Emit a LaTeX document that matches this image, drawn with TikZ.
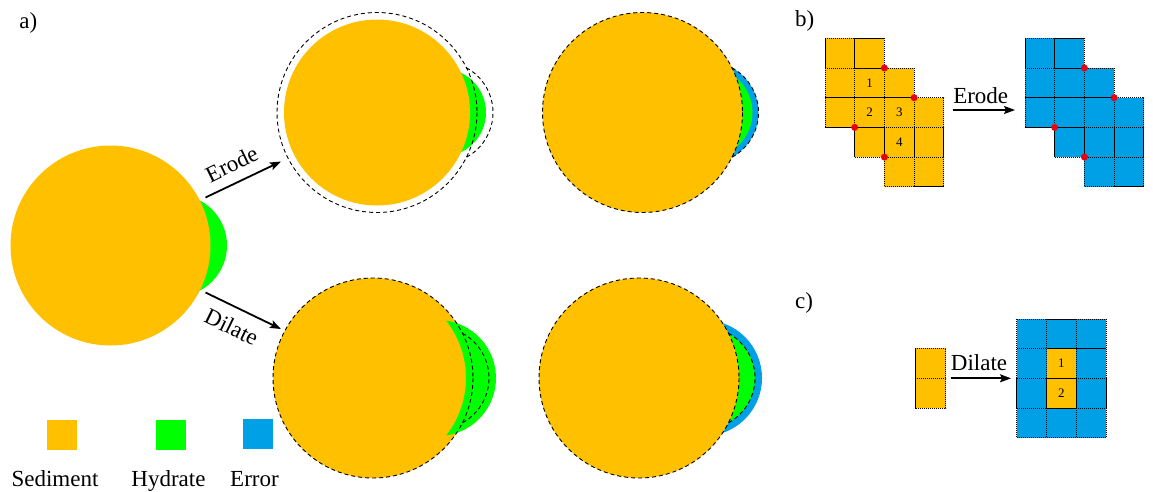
\documentclass[tikz,border=0pt]{standalone}
\usepackage{fontspec}
\setmainfont{Liberation Serif}
\usetikzlibrary{arrows.meta}
\definecolor{sed}{HTML}{FFC000}
\definecolor{hyd}{HTML}{00FF00}
\definecolor{err}{HTML}{00A0E6}
\definecolor{dotred}{HTML}{E60012}
\begin{document}
\begin{tikzpicture}[x=1pt,y=-1pt,
  lbl/.style={font=\fontsize{23}{27}\selectfont, inner sep=0pt},
  num/.style={font=\fontsize{13}{15}\selectfont, inner sep=0pt},
  outl/.style={draw=black, line width=0.9pt, dash pattern=on 4pt off 3pt},
  arr/.style={line width=1.8pt, -{Stealth[length=11pt,width=8pt,inset=2pt]}},
  cellY/.style={fill=sed, draw=black, line width=0.8pt, dash pattern=on 1.2pt off 0.8pt},
  cellB/.style={cellY, fill=err},
  rdot/.style={fill=dotred}
]
\useasboundingbox (0,0) rectangle (1153,491);

% ---------- a) ----------
\node[lbl, anchor=base west] (la) at (19.3,28.3) {a)};
% original
\fill[hyd] (176,245.5) circle (51);
\fill[sed] (110.5,245.5) circle (100);
% erode (top middle)
\fill[hyd] (442,112.5) circle (44);
\fill[sed] (377,112.5) circle (93);
\draw[outl] (377,112.5) circle (100);
\draw[outl] (442,112.5) ++(-61.4:51) arc[start angle=-61.4,end angle=61.4,radius=51];
% top right
\fill[err] (707.5,112.5) circle (51);
\fill[hyd] (707.5,112.5) circle (45);
\fill[sed] (642.5,112.5) circle (100);
\draw[outl] (642.5,112.5) circle (100);
\draw[outl] (707.5,112.5) ++(-61.4:51) arc[start angle=-61.4,end angle=61.4,radius=51];
% dilate (bottom middle)
\fill[sed] (373,378) circle (100);
\fill[hyd] (438,378) ++(-81.9:58) arc[start angle=-81.9,end angle=81.9,radius=58]
  arc[start angle=38.1,end angle=-38.1,radius=93] -- cycle;
\draw[outl] (373,378) circle (100);
\draw[outl] (438,378) ++(-61.4:51) arc[start angle=-61.4,end angle=61.4,radius=51];
% bottom right
\fill[err] (704,378) circle (58);
\fill[hyd] (704,378) circle (51);
\fill[sed] (639,378) circle (100);
\draw[outl] (639,378) circle (100);
\draw[outl] (704,378) ++(-61.4:51) arc[start angle=-61.4,end angle=61.4,radius=51];
% arrows
\coordinate (eS) at (205.5,197.5);
\coordinate (eE) at (281,161.5);
\coordinate (dS) at (205.5,292.5);
\coordinate (dE) at (281,329);
\draw[arr] (eS) -- (eE);
\draw[arr] (dS) -- (dE);
\node[lbl, rotate=26] (le) at (231.7,164) {Erode};
\node[lbl, rotate=-26] (ld) at (231.7,327) {Dilate};
% legend
\fill[sed] (47,420) rectangle (77,450);
\fill[hyd] (156,420) rectangle (186,450);
\fill[err] (243,419) rectangle (273,449);
\node[lbl, anchor=base] (ls) at (55,486) {Sediment};
\node[lbl, anchor=base] (lh) at (168.5,486) {Hydrate};
\node[lbl, anchor=base] (lr) at (254.5,486) {Error};

% ---------- b) ----------
\node[lbl, anchor=base west] (lb) at (795,26.7) {b)};
\foreach \c/\r in {0/0,1/0,0/1,1/1,2/1,0/2,1/2,2/2,3/2,1/3,2/3,3/3,2/4,3/4} {
  \draw[cellY] ({825+\c*29.7},{38.3+\r*29.7}) rectangle ++(29.7,29.7);
  \draw[cellB] ({1025+\c*29.7},{38.3+\r*29.7}) rectangle ++(29.7,29.7);
}
\node[num] (n1) at (869.55,82.85) {1};
\node[num] (n2) at (869.55,112.55) {2};
\node[num] (n3) at (899.25,112.55) {3};
\node[num] (n4) at (899.25,142.25) {4};
\foreach \x/\y in {884.4/68,914.1/97.7,854.7/127.4,884.4/157.1} {
  \fill[rdot] (\x,\y) circle (3.5);
  \fill[rdot] ({\x+200},\y) circle (3.5);
}
\coordinate (bS) at (952.7,110);
\coordinate (bE) at (1015,110);
\draw[arr] (bS) -- (bE);
\node[lbl, anchor=base] (lbe) at (980.7,103.3) {Erode};

% ---------- c) ----------
\node[lbl, anchor=base west] (lc) at (795,308.3) {c)};
\draw[cellY] (915.7,348.3) rectangle ++(30,30);
\draw[cellY] (915.7,378.3) rectangle ++(30,30);
\foreach \c in {0,1,2} {
  \foreach \r in {0,1,2,3} {
    \draw[cellB] ({1016.7+\c*29.8},{319+\r*29.7}) rectangle ++(29.8,29.7);
  }
}
\draw[cellY] (1046.5,348.7) rectangle ++(29.8,29.7);
\draw[cellY] (1046.5,378.4) rectangle ++(29.8,29.7);
\node[num] (m1) at (1061.4,363.5) {1};
\node[num] (m2) at (1061.4,393.2) {2};
\coordinate (cS) at (950.7,378.3);
\coordinate (cE) at (1011,378.3);
\draw[arr] (cS) -- (cE);
\node[lbl, anchor=base] (lcd) at (979,370.7) {Dilate};
\end{tikzpicture}
\end{document}
